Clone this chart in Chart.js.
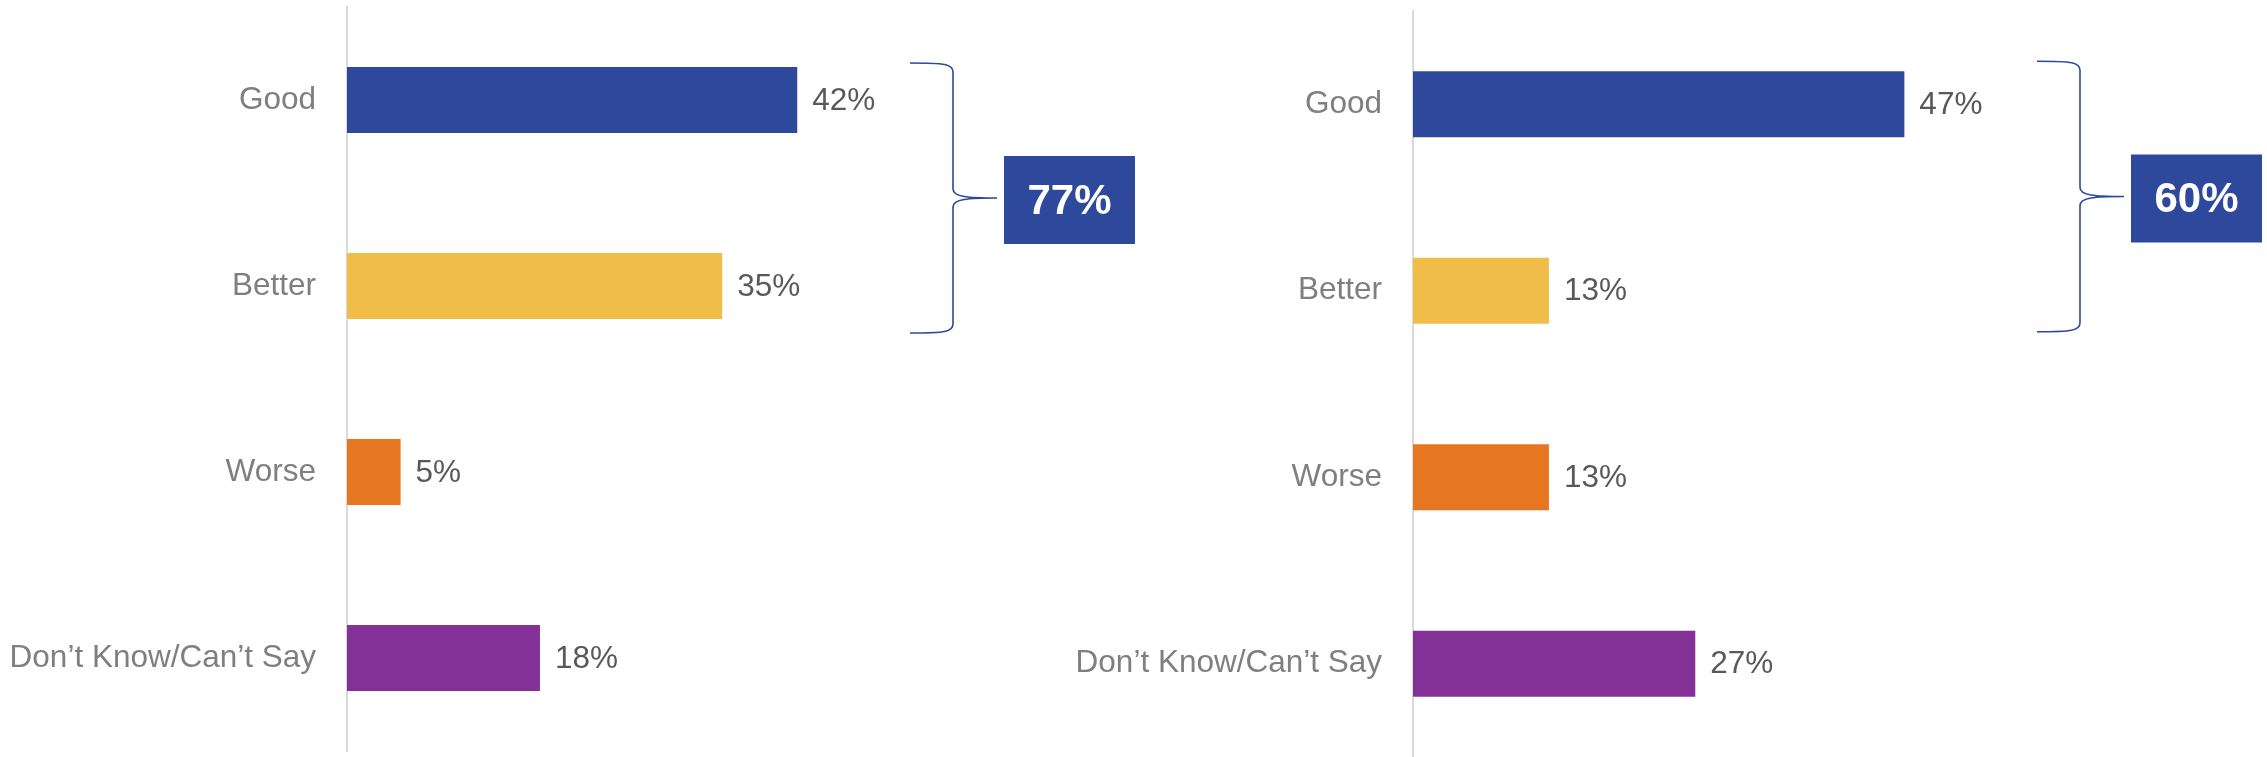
<!DOCTYPE html>
<html>
<head>
<meta charset="utf-8">
<script src="https://cdn.jsdelivr.net/npm/chart.js@4"></script>
<style>
  body { margin: 0; background: #fff; }
  #page { position: relative; width: 2267px; height: 757px; overflow: hidden; }
  canvas { position: absolute; top: 0; }
  #leftChart { left: 0; }
  #rightChart { left: 1066px; }
</style>
</head>
<body>
<div id="page">
  <canvas id="leftChart" width="1140" height="757"></canvas>
  <canvas id="rightChart" width="1201" height="757"></canvas>
</div>
<script>
const categories = ["Good", "Better", "Worse", "Don\u2019t Know/Can\u2019t Say"];
const leftValues = [42, 35, 5, 18];
const rightValues = [47, 13, 13, 27];
const barColors = ["#2E499B", "#F0BD48", "#E77621", "#833197"];

const FONT = "Arial, 'Liberation Sans', sans-serif";
const BLUE = "#2E499B";

// percentage printed just past the end of each bar
const valueLabels = {
  id: "valueLabels",
  afterDatasetsDraw(chart) {
    const ctx = chart.ctx;
    const meta = chart.getDatasetMeta(0);
    const values = chart.data.datasets[0].data;
    ctx.save();
    ctx.font = "31.5px " + FONT;
    ctx.fillStyle = "#595959";
    ctx.textAlign = "left";
    ctx.textBaseline = "middle";
    meta.data.forEach((bar, i) => {
      ctx.fillText(values[i] + "%", bar.x + 15, bar.y + 1);
    });
    ctx.restore();
  }
};

// curly brace round the first two bars, with their sum in a box
const bracket = {
  id: "bracket",
  afterDraw(chart, args, opts) {
    const ctx = chart.ctx;
    const y = chart.scales.y;
    const top = y.getPixelForValue(0) - opts.above;
    const bottom = y.getPixelForValue(1) + opts.below;
    const mid = (top + bottom) / 2;

    const boxW = 131, boxH = 88;
    const bx = chart.width - 5 - boxW;
    const x0 = bx - 94, x1 = bx - 51, x2 = bx - 7;

    ctx.save();
    ctx.strokeStyle = BLUE;
    ctx.lineWidth = 1.6;
    ctx.beginPath();
    ctx.moveTo(x0, top);
    ctx.bezierCurveTo(x0 + 35, top, x1, top + 1, x1, top + 9);
    ctx.lineTo(x1, mid - 9);
    ctx.bezierCurveTo(x1, mid - 1, x1 + 15, mid, x2, mid);
    ctx.moveTo(x2, mid);
    ctx.bezierCurveTo(x1 + 15, mid, x1, mid + 1, x1, mid + 9);
    ctx.lineTo(x1, bottom - 9);
    ctx.bezierCurveTo(x1, bottom - 1, x0 + 35, bottom, x0, bottom);
    ctx.stroke();

    const by = mid + 2 - boxH / 2;
    ctx.fillStyle = BLUE;
    ctx.fillRect(bx, by, boxW, boxH);
    ctx.fillStyle = "#fff";
    ctx.font = "bold 42px " + FONT;
    ctx.textAlign = "center";
    ctx.textBaseline = "middle";
    ctx.fillText(opts.total + "%", bx + boxW / 2, by + boxH / 2 + 2);
    ctx.restore();
  }
};

function makeChart(id, values, xMax, padding, brace) {
  return new Chart(document.getElementById(id), {
    type: "bar",
    data: {
      labels: categories,
      datasets: [{
        data: values,
        backgroundColor: barColors,
        borderWidth: 0,
        categoryPercentage: 1,
        barPercentage: 0.355
      }]
    },
    options: {
      indexAxis: "y",
      responsive: false,
      animation: false,
      layout: { padding: padding },
      plugins: {
        legend: { display: false },
        tooltip: { enabled: false },
        bracket: { total: values[0] + values[1], above: brace[0], below: brace[1] }
      },
      scales: {
        x: { display: false, min: 0, max: xMax },
        y: {
          // fixed label column, and no extra room above/below for the labels
          afterFit(scale) {
            scale.width = 347;
            scale.paddingTop = 0;
            scale.paddingBottom = 0;
          },
          grid: { display: false, drawTicks: false },
          border: { display: true, color: "#D9D9D9", width: 2 },
          ticks: {
            color: "#7F7F7F",
            padding: 31,
            font: { family: FONT, size: 31.5 }
          }
        }
      }
    },
    plugins: [valueLabels, bracket]
  });
}

makeChart("leftChart", leftValues, 50, { top: 7, bottom: 6, left: 0, right: 257 }, [37, 47]);
makeChart("rightChart", rightValues, 55, { top: 11, bottom: 0, left: 0, right: 279 }, [43, 41]);
</script>
</body>
</html>
